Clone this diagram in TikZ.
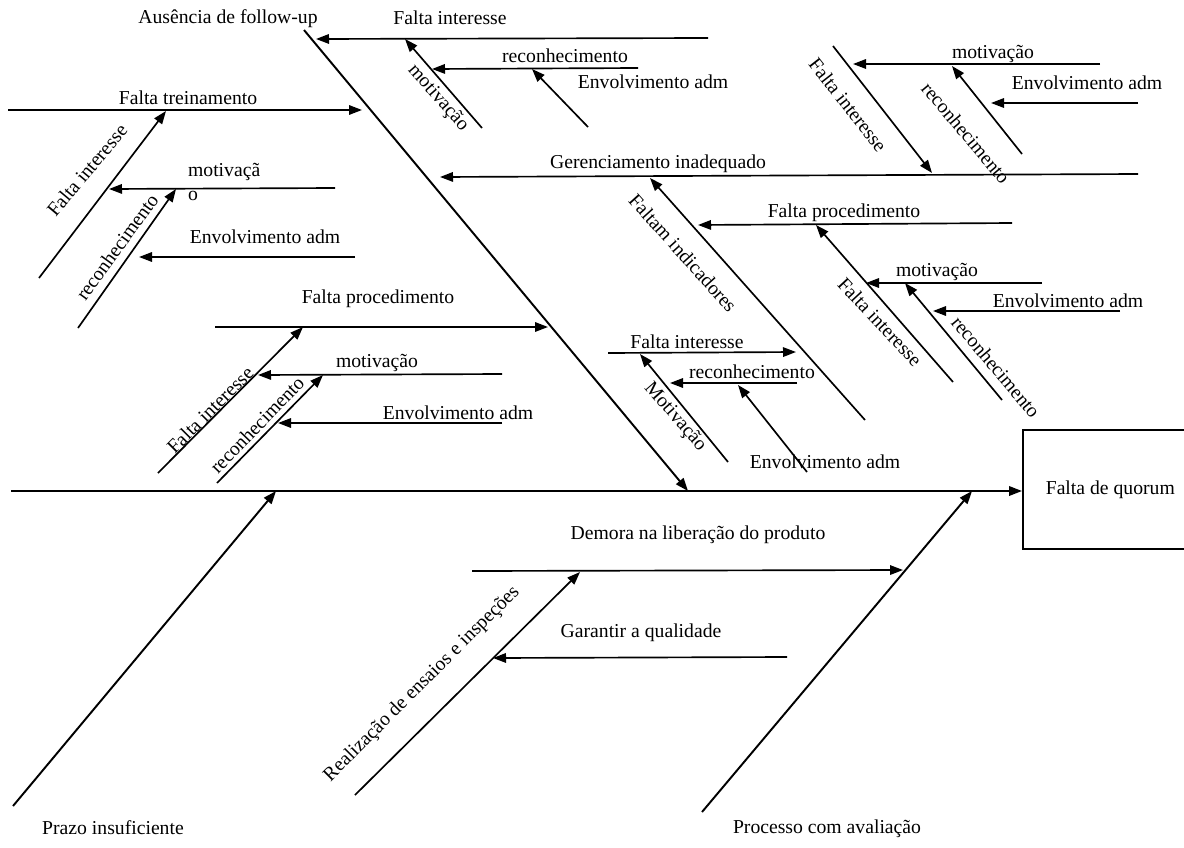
\documentclass[tikz,border=0pt]{standalone}
\usepackage{fontspec}
\setmainfont{Liberation Serif}
\usetikzlibrary{arrows.meta}
\tikzset{
  arr/.style={-{Triangle[length=2.6mm,width=1.9mm]}, line width=0.95pt},
  bone/.style={line width=1.1pt},
  lab/.style={font=\fontsize{11.2}{13.6}\selectfont, inner sep=1pt},
  effect/.style={draw, line width=0.9pt, font=\fontsize{11.2}{13.6}\selectfont,
                 minimum width=3.5cm, minimum height=2.38cm},
}
\begin{document}
\begin{tikzpicture}[x=0.2mm, y=-0.2mm]
    \useasboundingbox (0,0) rectangle (1184,847);
    \node[effect, anchor=north west] (fq) at (1022,429) {Falta de quorum};
    \coordinate (sp) at (11,491);
    \draw[arr, bone] (sp) -- (sp -| fq.west);
    % main bones
    \coordinate (af0) at (304,30); \coordinate (af1) at (688,491);
    \coordinate (pz0) at (13,806); \coordinate (pz1) at (276,491);
    \coordinate (pa0) at (702,812); \coordinate (pa1) at (972,491);
    \draw[arr, bone] (af0) -- (af1); \draw[arr, bone] (pz0) -- (pz1); \draw[arr, bone] (pa0) -- (pa1);
    \node[lab] (afl) at (228,19) {Ausência de follow-up};
    \node[lab] (pzl) at (113,828) {Prazo insuficiente};
    \node[lab] (pal) at (827,829) {Processo com avaliação};
    % Falta interesse (top)
    \coordinate (fi0) at (708,38); \coordinate (fi1) at (316,39);
    \coordinate (mo0) at (482,128); \coordinate (mo1) at (405,39);
    \coordinate (re0) at (638,68); \coordinate (re1) at (432,69);
    \coordinate (en0) at (588,127); \coordinate (en1) at (532,69);
    \draw[arr] (fi0) -- (fi1); \draw[arr] (mo0) -- (mo1); \draw[arr] (re0) -- (re1); \draw[arr] (en0) -- (en1);
    \node[lab] (fil) at (450,18) {Falta interesse};
    \node[lab, rotate=-49] (mol) at (438,98) {motivação};
    \node[lab] (rel) at (565,56) {reconhecimento};
    \node[lab] (enl) at (653,82) {Envolvimento adm};
    % Falta treinamento
    \coordinate (ft0) at (8,110); \coordinate (ft1) at (362,110);
    \coordinate (fj0) at (39,278); \coordinate (fj1) at (166,111);
    \coordinate (mp0) at (335,188); \coordinate (mp1) at (109,189);
    \coordinate (rc0) at (78,328); \coordinate (rc1) at (176,189);
    \coordinate (ev0) at (355,257); \coordinate (ev1) at (139,257);
    \draw[arr] (ft0) -- (ft1); \draw[arr] (fj0) -- (fj1); \draw[arr] (mp0) -- (mp1);
    \draw[arr] (rc0) -- (rc1); \draw[arr] (ev0) -- (ev1);
    \node[lab] (ftl) at (188,98) {Falta treinamento};
    \node[lab, rotate=50] (fjl) at (87,170) {Falta interesse};
    \node[lab, align=left, anchor=west] (mpl) at (186,182) {motivaçã\\o};
    \node[lab, rotate=54] (rcl) at (117,247) {reconhecimento};
    \node[lab] (evl) at (265,237) {Envolvimento adm};
    % Gerenciamento inadequado
    \coordinate (gi0) at (1138,174); \coordinate (gi1) at (440,177);
    \coordinate (fk0) at (833,46); \coordinate (fk1) at (932,173);
    \coordinate (mq0) at (1100,64); \coordinate (mq1) at (853,64);
    \coordinate (rd0) at (1022,154); \coordinate (rd1) at (952,66);
    \coordinate (ew0) at (1138,103); \coordinate (ew1) at (991,103);
    \draw[arr] (gi0) -- (gi1); \draw[arr] (fk0) -- (fk1); \draw[arr] (mq0) -- (mq1);
    \draw[arr] (rd0) -- (rd1); \draw[arr] (ew0) -- (ew1);
    \node[lab] (gil) at (658,164) {Gerenciamento inadequado};
    \node[lab, rotate=-52] (fkl) at (848,105) {Falta interesse};
    \node[lab] (mql) at (993,54) {motivação};
    \node[lab, rotate=-50] (rdl) at (966,133) {reconhecimento};
    \node[lab] (ewl) at (1087,83) {Envolvimento adm};
    % Faltam indicadores
    \coordinate (ind0) at (865,420); \coordinate (ind1) at (650,178);
    \coordinate (fp0) at (1012,223); \coordinate (fp1) at (698,225);
    \coordinate (fl0) at (953,382); \coordinate (fl1) at (816,225);
    \coordinate (mr0) at (1042,283); \coordinate (mr1) at (866,283);
    \coordinate (rg0) at (1002,400); \coordinate (rg1) at (905,283);
    \coordinate (ex0) at (1120,311); \coordinate (ex1) at (933,311);
    \draw[arr] (ind0) -- (ind1); \draw[arr] (fp0) -- (fp1); \draw[arr] (fl0) -- (fl1);
    \draw[arr] (mr0) -- (mr1); \draw[arr] (rg0) -- (rg1); \draw[arr] (ex0) -- (ex1);
    \node[lab, rotate=-48] (indl) at (683,253) {Faltam indicadores};
    \node[lab] (fpl) at (844,213) {Falta procedimento};
    \node[lab, rotate=-47] (fll) at (880,322) {Falta interesse};
    \node[lab] (mrl) at (937,272) {motivação};
    \node[lab, rotate=-50] (rgl) at (996,367) {reconhecimento};
    \node[lab] (exl) at (1068,301) {Envolvimento adm};
    \coordinate (fm0) at (608,353); \coordinate (fm1) at (796,352);
    \coordinate (ms0) at (728,462); \coordinate (ms1) at (640,354);
    \coordinate (rh0) at (797,383); \coordinate (rh1) at (670,383);
    \coordinate (ey0) at (807,472); \coordinate (ey1) at (738,385);
    \draw[arr] (fm0) -- (fm1); \draw[arr] (ms0) -- (ms1); \draw[arr] (rh0) -- (rh1); \draw[arr] (ey0) -- (ey1);
    \node[lab] (fml) at (687,342) {Falta interesse};
    \node[lab, rotate=-49] (msl) at (675,417) {Motivação};
    \node[lab] (rhl) at (752,372) {reconhecimento};
    \node[lab] (eyl) at (825,462) {Envolvimento adm};
    % Falta procedimento (left)
    \coordinate (fo0) at (215,327); \coordinate (fo1) at (548,327);
    \coordinate (fn0) at (158,473); \coordinate (fn1) at (303,327);
    \coordinate (mt0) at (502,374); \coordinate (mt1) at (258,375);
    \coordinate (ri0) at (217,483); \coordinate (ri1) at (323,375);
    \coordinate (ez0) at (502,423); \coordinate (ez1) at (278,423);
    \draw[arr] (fo0) -- (fo1); \draw[arr] (fn0) -- (fn1); \draw[arr] (mt0) -- (mt1);
    \draw[arr] (ri0) -- (ri1); \draw[arr] (ez0) -- (ez1);
    \node[lab] (fol) at (378,299) {Falta procedimento};
    \node[lab, rotate=45] (fnl) at (210,410) {Falta interesse};
    \node[lab] (mtl) at (377,363) {motivação};
    \node[lab, rotate=46] (ril) at (257,425) {reconhecimento};
    \node[lab] (ezl) at (458,413) {Envolvimento adm};
    % Processo com avaliacao
    \coordinate (dl0) at (472,571); \coordinate (dl1) at (903,570);
    \coordinate (rz0) at (355,795); \coordinate (rz1) at (580,572);
    \coordinate (gq0) at (787,657); \coordinate (gq1) at (493,658);
    \draw[arr] (dl0) -- (dl1); \draw[arr] (rz0) -- (rz1); \draw[arr] (gq0) -- (gq1);
    \node[lab] (dll) at (698,535) {Demora na liberação do produto};
    \node[lab, rotate=45] (rzl) at (422,684) {Realização de ensaios e inspeções};
    \node[lab] (gql) at (641,633) {Garantir a qualidade};
  \end{tikzpicture}
\end{document}
